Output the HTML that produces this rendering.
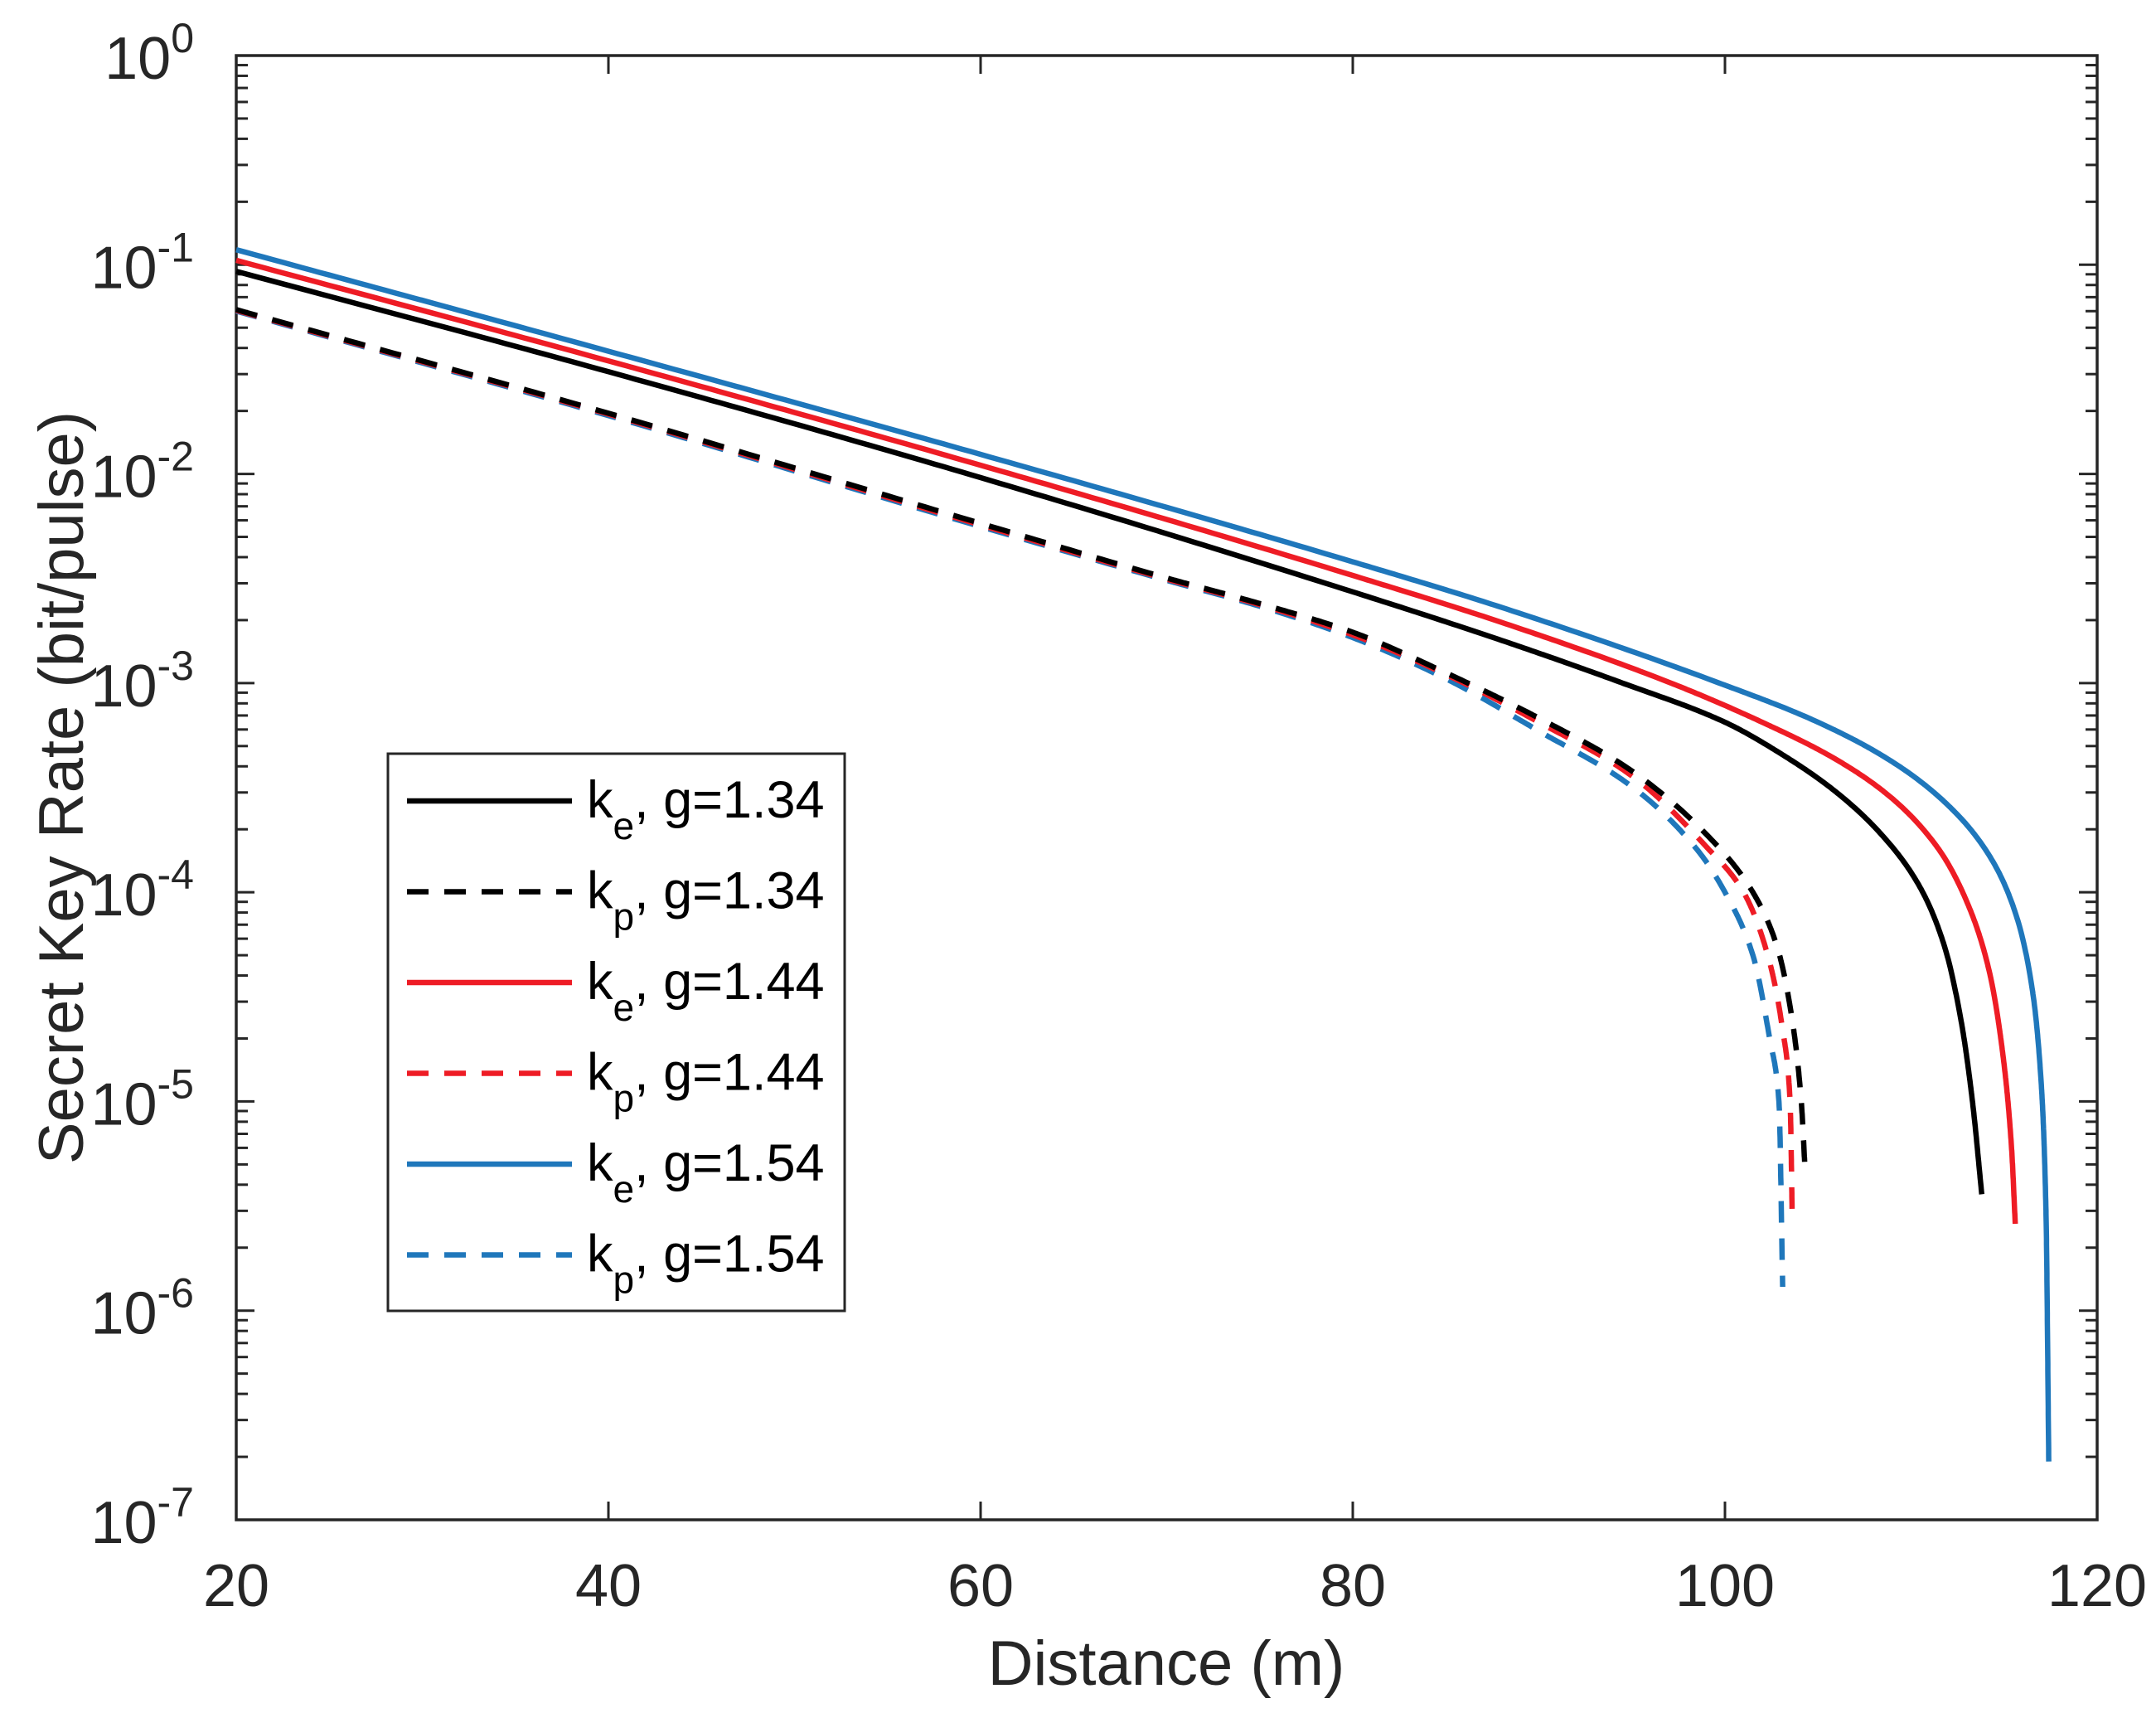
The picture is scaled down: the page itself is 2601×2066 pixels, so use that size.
<!DOCTYPE html>
<html><head><meta charset="utf-8"><style>
html,body{margin:0;padding:0;background:#fff}
svg{display:block;font-family:"Liberation Sans",Arial,sans-serif}
</style></head><body>
<svg id="chart" width="2601" height="2066" viewBox="0 0 2601 2066" xmlns="http://www.w3.org/2000/svg">
<rect x="0" y="0" width="2601" height="2066" fill="#fff"/>
<g id="plot"></g>
</svg>
<script>
const xTicks = [20, 40, 60, 80, 100, 120];
const yExps = [0, -1, -2, -3, -4, -5, -6, -7];
const seriesNames = ["ke-g134","kp-g134","ke-g144","kp-g144","ke-g154","kp-g154"];
const keX134 = [20,40,60,80,88,94.5,100,103,106,108.5,110.5,111.8,112.7,113.3,113.8];
const keY134 = [0.093,0.0308,0.0096,0.00273,1.6e-3,1e-3,6.5e-4,4.6e-4,3.0e-4,1.85e-4,1.05e-4,5.5e-5,2.4e-5,1e-5,3.6e-6];
const keX144 = [20,40,60,80,88,97.1,102,106,109,111.5,113,114.2,115,115.4,115.6];
const keY144 = [0.105,0.0347,0.011,0.00327,1.95e-3,1e-3,6.5e-4,4.3e-4,2.8e-4,1.6e-4,9e-5,4.2e-5,1.5e-5,6e-6,2.6e-6];
const keX154 = [20,40,60,80,88,99.7,105,109,112,114.2,115.6,116.5,117,117.25,117.4];
const keY154 = [0.118,0.0386,0.0124,0.0038,2.3e-3,1e-3,6.5e-4,4.2e-4,2.6e-4,1.5e-4,8e-5,3.5e-5,1.2e-5,3e-6,1.9e-7];
const kpX134 = [20,40,60,70,75,80,85,90,95,99.5,101.5,102.8,103.6,104.1,104.3];
const kpY134 = [0.061,0.0195,0.0058,0.00318,2.4e-3,0.00175,1.12e-3,6.8e-4,3.8e-4,1.7e-4,1e-4,5.5e-5,2.5e-5,1e-5,4.8e-6];
const kpX144 = [20,40,60,70,75,80,85,90,95,99,101,102.3,103.1,103.5,103.62];
const kpY144 = [0.0605,0.0193,0.0057,0.00314,2.37e-3,0.0017,1.1e-3,6.5e-4,3.6e-4,1.65e-4,1e-4,5e-5,2.2e-5,1e-5,2.6e-6];
const kpX154 = [20,40,60,70,75,80,85,90,95,98.5,100,101.5,102.4,102.9,103.1];
const kpY154 = [0.06,0.019,0.0056,0.0031,2.33e-3,0.00165,1.05e-3,5.9e-4,3.2e-4,1.6e-4,1e-4,5e-5,2e-5,1e-5,1.3e-6];

const L=285, R=2530, T=67, B=1833;
const sx = v => L + (v-20)/(120-20)*(R-L);
const sy = v => T + (0 - Math.log10(v))/7*(B-T);
const NS="http://www.w3.org/2000/svg";
const g=document.getElementById('plot');
function mk(tag, attrs, parent){const e=document.createElementNS(NS,tag);for(const k in attrs)e.setAttribute(k,attrs[k]);(parent||g).appendChild(e);return e;}
function monoPath(xs, ys){
  const n=xs.length, ly=ys.map(v=>Math.log10(v));
  const h=[],dl=[];
  for(let i=0;i<n-1;i++){h.push(xs[i+1]-xs[i]);dl.push((ly[i+1]-ly[i])/h[i]);}
  const m=new Array(n);
  m[0]=dl[0];m[n-1]=dl[n-2];
  for(let i=1;i<n-1;i++){
    if(dl[i-1]*dl[i]<=0)m[i]=0;
    else{const w1=2*h[i]+h[i-1],w2=h[i]+2*h[i-1];m[i]=(w1+w2)/(w1/dl[i-1]+w2/dl[i]);}
  }
  const out=[];
  for(let i=0;i<n-1;i++){
    const steps=40;
    for(let k=(i?1:0);k<=steps;k++){
      const t=k/steps,t2=t*t,t3=t2*t;
      const v=(2*t3-3*t2+1)*ly[i]+(t3-2*t2+t)*h[i]*m[i]+(-2*t3+3*t2)*ly[i+1]+(t3-t2)*h[i]*m[i+1];
      const x=xs[i]+t*h[i];
      out.push(sx(x).toFixed(1)+','+sy(Math.pow(10,v)).toFixed(1));
    }
  }
  return 'M'+out.join(' L');
}

xTicks.forEach(t=>{
  const x=sx(t);
  const a=mk('line',{x1:x,y1:B,x2:x,y2:B-22,stroke:'#262626','stroke-width':3});
  
  
  const b=mk('line',{x1:x,y1:T,x2:x,y2:T+22,stroke:'#262626','stroke-width':3});
  
  
  const tx=mk('text',{x:x,y:1937,'font-size':72,'text-anchor':'middle',fill:'#262626'});
  tx.textContent=t;
  
  
});
yExps.forEach((e,i)=>{
  const y=sy(Math.pow(10,e));
  [[L,L+22],[R,R-22]].forEach(p=>{
    const l=mk('line',{x1:p[0],y1:y,x2:p[1],y2:y,stroke:'#262626','stroke-width':3});
    
    
  });
  if(i<yExps.length-1){
    for(let m=2;m<=9;m++){
      const yy=sy(m*Math.pow(10,e-1));
      [[L,L+14],[R,R-14]].forEach(p=>{
        const l=mk('line',{x1:p[0],y1:yy,x2:p[1],y2:yy,stroke:'#262626','stroke-width':3});
        
        
      });
    }
  }
  const tx=mk('text',{x:234,y:y+28,'font-size':72,'text-anchor':'end',fill:'#262626'});
  tx.textContent='10';
  const sp=mk('tspan',{dy:-32,'font-size':50},tx);
  sp.textContent=String(e);
  
  
});
const box=mk('rect',{x:L,y:T,width:R-L,height:B-T,fill:'none',stroke:'#262626','stroke-width':3.5});



const series=[
 [keX134,keY134,'#000000',false],[kpX134,kpY134,'#000000',true],
 [keX144,keY144,'#ee1c25',false],[kpX144,kpY144,'#ee1c25',true],
 [keX154,keY154,'#1f77bb',false],[kpX154,kpY154,'#1f77bb',true]];
const order=[5,3,1,0,2,4];
order.forEach(i=>{
  const s=series[i];
  const p=mk('path',{d:monoPath(s[0],s[1]),fill:'none',stroke:s[2],'stroke-width':6.5,'stroke-linejoin':'round'});
  if(s[3])p.setAttribute('stroke-dasharray','26 19');
  
  
});

const xt=mk('text',{x:1407,y:2032,'font-size':76,'text-anchor':'middle',fill:'#262626'});
xt.textContent='Distance (m)';


const yt=mk('text',{x:0,y:0,'font-size':76,'text-anchor':'middle',fill:'#262626',transform:'translate(100,950) rotate(-90)'});
yt.textContent='Secret Key Rate (bit/pulse)';



const lg=mk('g',{});


const lr=mk('rect',{x:468,y:909,width:551,height:672,fill:'#fff',stroke:'#262626','stroke-width':3},lg);


const labels=[['e','1.34'],['p','1.34'],['e','1.44'],['p','1.44'],['e','1.54'],['p','1.54']];
labels.forEach((lb,i)=>{
  const y=966+i*109.5;
  const s=series[i];
  const ln=mk('line',{x1:491,y1:y,x2:690,y2:y,stroke:s[2],'stroke-width':6.5},lg);
  if(s[3])ln.setAttribute('stroke-dasharray','26 19');
  
  
  const t=mk('text',{x:708,y:y+20,'font-size':63,fill:'#000'},lg);
  t.textContent='k';
  const sub=mk('tspan',{dy:26,'font-size':46},t);
  sub.textContent=lb[0];
  const rest=mk('tspan',{dy:-26},t);
  rest.textContent=', g='+lb[1];
  
  
});
</script>
</body></html>
